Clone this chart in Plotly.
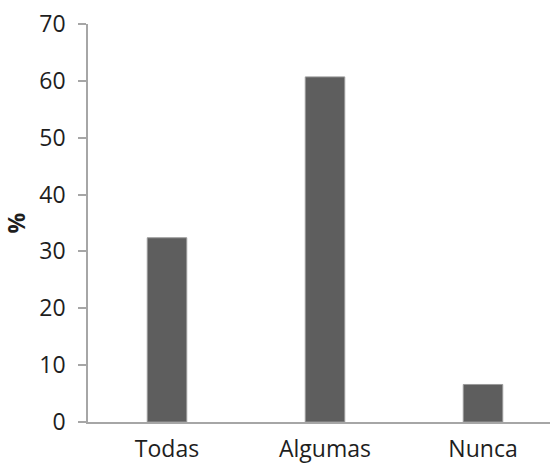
import plotly.graph_objects as go

categories = ["Todas", "Algumas", "Nunca"]
values = [32.4, 60.7, 6.6]
y_ticks = [0, 10, 20, 30, 40, 50, 60, 70]

fig = go.Figure(
    go.Bar(
        x=categories,
        y=values,
        width=0.25,
        marker=dict(color="#5e5e5e", line=dict(color="#9a9a9a", width=1)),
    )
)

fig.update_layout(
    width=550,
    height=468,
    margin=dict(l=88, r=0, t=24, b=46),
    plot_bgcolor="white",
    paper_bgcolor="white",
    showlegend=False,
    font=dict(family="Open Sans, Liberation Sans, sans-serif", size=23, color="#1e1e1e"),
)

fig.update_xaxes(
    range=[-0.5, 2.424],
    showline=True,
    linecolor="#a6a6a6",
    linewidth=1.5,
    ticks="",
    ticklabelstandoff=6,
    showgrid=False,
    automargin=False,
    tickfont=dict(size=23),
)

fig.update_yaxes(
    range=[0, 70],
    tickvals=y_ticks,
    showline=True,
    linecolor="#a6a6a6",
    linewidth=1.5,
    ticks="outside",
    ticklen=8,
    tickcolor="#a6a6a6",
    tickwidth=1.5,
    ticklabelstandoff=8,
    showgrid=False,
    zeroline=False,
    automargin=False,
    tickfont=dict(size=23),
    title=dict(text="<b>%</b>", font=dict(size=23), standoff=12),
)

fig.write_html("out.html")
